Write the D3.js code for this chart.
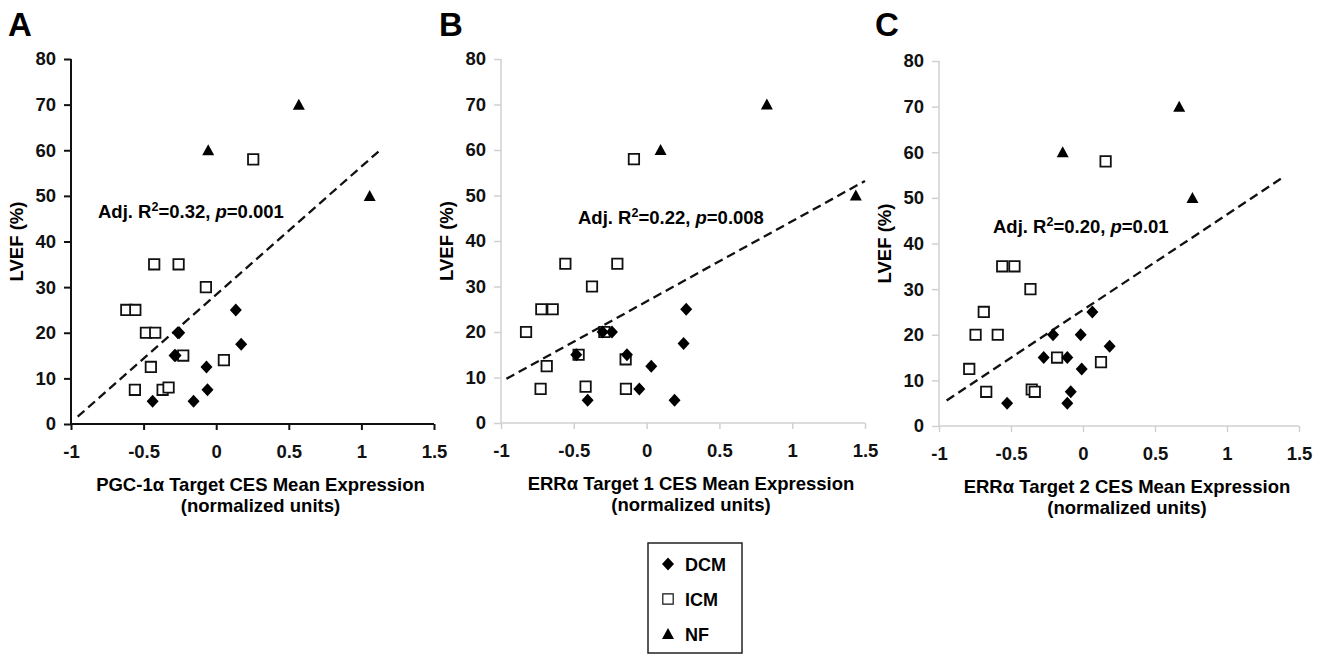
<!DOCTYPE html>
<html>
<head>
<meta charset="utf-8">
<script src="https://cdn.jsdelivr.net/npm/d3@7/dist/d3.min.js"></script>
<style>
  body { margin: 0; background: #fff; }
  svg { font-family: "Liberation Sans", Arial, sans-serif; font-weight: bold; }
  .tick text { font-size: 18.5px; font-weight: bold; fill: #111; }
</style>
</head>
<body>
<svg id="chart" width="1329" height="656"></svg>
<script>
  // panel titles, axis labels and stats
  const panelLetters = ['A', 'B', 'C'];
  const xLabels = [
    'PGC-1\u03b1 Target CES Mean Expression',
    'ERR\u03b1 Target 1 CES Mean Expression',
    'ERR\u03b1 Target 2 CES Mean Expression'
  ];
  const r2Values = ['0.32', '0.22', '0.20'];
  const pValues = ['0.001', '0.008', '0.01'];
  const xTicks = [-1, -0.5, 0, 0.5, 1, 1.5];
  const yTicks = [0, 10, 20, 30, 40, 50, 60, 70, 80];
  const groups = ['DCM', 'ICM', 'NF'];

  // [expression, LVEF] per group
  const dcmA = [[0.135, 25], [-0.264, 20], [-0.255, 20], [-0.287, 15], [-0.28, 15], [0.172, 17.5],
                [-0.067, 12.5], [-0.06, 7.5], [-0.438, 5], [-0.156, 5]];
  const icmA = [[0.255, 58], [-0.427, 35], [-0.259, 35], [-0.071, 30], [-0.619, 25], [-0.557, 25],
                [-0.484, 20], [-0.42, 20], [-0.227, 15], [-0.45, 12.5], [0.053, 14], [-0.56, 7.5],
                [-0.369, 7.5], [-0.328, 8]];
  const nfA = [[-0.055, 60], [0.569, 70], [1.057, 50]];

  const dcmB = [[0.272, 25], [0.254, 17.5], [-0.302, 20], [-0.238, 20], [-0.483, 15], [-0.135, 15],
                [0.032, 12.5], [-0.05, 7.5], [-0.405, 5], [0.192, 5]];
  const icmB = [[-0.087, 58], [-0.558, 35], [-0.201, 35], [-0.375, 30], [-0.723, 25], [-0.645, 25],
                [-0.828, 20], [-0.29, 20], [-0.467, 15], [-0.686, 12.5], [-0.144, 14], [-0.728, 7.5],
                [-0.419, 8], [-0.142, 7.5]];
  const nfB = [[0.096, 60], [0.826, 70], [1.437, 50]];

  const dcmC = [[0.065, 25], [-0.208, 20], [-0.016, 20], [-0.273, 15], [-0.109, 15], [0.185, 17.5],
                [-0.009, 12.5], [-0.085, 7.5], [-0.527, 5], [-0.109, 5]];
  const icmC = [[0.157, 58], [-0.561, 35], [-0.476, 35], [-0.365, 30], [-0.689, 25], [-0.746, 20],
                [-0.592, 20], [-0.18, 15], [-0.79, 12.5], [0.125, 14], [-0.672, 7.5], [-0.356, 8],
                [-0.335, 7.5]];
  const nfC = [[-0.141, 60], [0.668, 70], [0.76, 50]];

  // fitted regression line end points
  const fitA = [[-0.954, 1.6], [1.124, 59.9]];
  const fitB = [[-0.963, 9.7], [1.5, 53.2]];
  const fitC = [[-0.947, 5.6], [1.379, 54.3]];

  const panelData = [
    {dcm: dcmA, icm: icmA, nf: nfA, fit: fitA},
    {dcm: dcmB, icm: icmB, nf: nfB, fit: fitB},
    {dcm: dcmC, icm: icmC, nf: nfC, fit: fitC}
  ];

  // layout per panel (pixels)
  const layout = [
    {x0: 71, x1: 434, y0: 424, y1: 59, axis: '#111', axisW: 2, letterX: 8, noteX: 98, noteY: 211},
    {x0: 501, x1: 865, y0: 423, y1: 59, axis: '#d0d0d0', axisW: 1.5, letterX: 439, noteX: 578, noteY: 217},
    {x0: 939, x1: 1299, y0: 426, y1: 61, axis: '#d0d0d0', axisW: 1.5, letterX: 875, noteX: 993, noteY: 226}
  ];

  const diamond = {
    draw(ctx) {
      ctx.moveTo(0, -6.5); ctx.lineTo(6, 0); ctx.lineTo(0, 6.5); ctx.lineTo(-6, 0); ctx.closePath();
    }
  };
  const square = {
    draw(ctx) { ctx.rect(-5.2, -5.2, 10.4, 10.4); }
  };
  const triangle = {
    draw(ctx) { ctx.moveTo(0, -6); ctx.lineTo(6, 5); ctx.lineTo(-6, 5); ctx.closePath(); }
  };
  const symbols = {
    DCM: d3.symbol(diamond)(),
    ICM: d3.symbol(square)(),
    NF: d3.symbol(triangle)()
  };
  const style = {
    DCM: {fill: '#000', stroke: 'none', sw: 0},
    ICM: {fill: '#fff', stroke: '#111', sw: 1.8},
    NF: {fill: '#000', stroke: 'none', sw: 0}
  };

  const svg = d3.select('#chart');

  panelData.forEach((pd, i) => {
    const L = layout[i];
    const x = d3.scaleLinear().domain([-1, 1.5]).range([L.x0, L.x1]);
    const y = d3.scaleLinear().domain([0, 80]).range([L.y0, L.y1]);
    const g = svg.append('g');

    g.append('text')
      .attr('x', L.letterX).attr('y', 36)
      .attr('font-size', 33).attr('font-weight', 'bold')
      .text(panelLetters[i]);

    const yAxis = g.append('g')
      .attr('transform', `translate(${L.x0},0)`)
      .call(d3.axisLeft(y).tickValues(yTicks).tickSize(7).tickPadding(8));
    const xAxis = g.append('g')
      .attr('transform', `translate(0,${L.y0})`)
      .call(d3.axisBottom(x).tickValues(xTicks).tickSize(6).tickPadding(15)
        .tickFormat(d => d3.format('')(d).replace('\u2212', '-')));
    [yAxis, xAxis].forEach(a => {
      a.select('.domain').attr('stroke', L.axis).attr('stroke-width', L.axisW);
      a.selectAll('.tick line').attr('stroke', L.axis).attr('stroke-width', L.axisW);
      a.selectAll('.tick text').attr('font-family', '"Liberation Sans", Arial, sans-serif');
    });
    xAxis.select('.domain').attr('d', `M${L.x0},0H${L.x1}`);
    yAxis.select('.domain').attr('d', `M0,${L.y0}V${L.y1}`);

    g.append('text')
      .attr('transform', `translate(${L.x0 - 48},${(L.y0 + L.y1) / 2}) rotate(-90)`)
      .attr('text-anchor', 'middle').attr('font-size', 18.5)
      .text('LVEF (%)');

    const cx = (L.x0 + L.x1) / 2 + 8;
    g.append('text').attr('x', cx).attr('y', L.y0 + 67)
      .attr('text-anchor', 'middle').attr('font-size', 18.5).text(xLabels[i]);
    g.append('text').attr('x', cx).attr('y', L.y0 + 88)
      .attr('text-anchor', 'middle').attr('font-size', 18.5).text('(normalized units)');

    // regression line
    g.append('path')
      .datum(pd.fit)
      .attr('fill', 'none').attr('stroke', '#111').attr('stroke-width', 2.3)
      .attr('stroke-dasharray', '9,5')
      .attr('d', d3.line().x(d => x(d[0])).y(d => y(d[1])));

    // markers
    [['ICM', pd.icm], ['DCM', pd.dcm], ['NF', pd.nf]].forEach(([k, arr]) => {
      g.selectAll(null).data(arr).join('path')
        .attr('d', symbols[k])
        .attr('transform', d => `translate(${x(d[0])},${y(d[1])})`)
        .attr('fill', style[k].fill).attr('stroke', style[k].stroke)
        .attr('stroke-width', style[k].sw);
    });

    const note = g.append('text').attr('x', L.noteX).attr('y', L.noteY + 7).attr('font-size', 18.5);
    note.append('tspan').text('Adj. R');
    note.append('tspan').attr('font-size', 12.5).attr('dy', -7).text('2');
    note.append('tspan').attr('dy', 7).text('=' + r2Values[i] + ', ');
    note.append('tspan').attr('font-style', 'italic').text('p');
    note.append('tspan').text('=' + pValues[i]);
  });

  // legend
  const lg = svg.append('g');
  lg.append('rect').attr('x', 648).attr('y', 543).attr('width', 94).attr('height', 110)
    .attr('fill', '#fff').attr('stroke', '#222').attr('stroke-width', 1.5);
  const legendY = d3.scalePoint().domain(groups).range([564, 634]);
  groups.forEach(k => {
    lg.append('path').attr('d', symbols[k])
      .attr('transform', `translate(668,${legendY(k)})`)
      .attr('fill', style[k].fill).attr('stroke', style[k].stroke)
      .attr('stroke-width', k === 'ICM' ? 1.2 : 0);
    lg.append('text').attr('x', 685).attr('y', legendY(k) + 6.5)
      .attr('font-size', 18).text(k);
  });
</script>
</body>
</html>
